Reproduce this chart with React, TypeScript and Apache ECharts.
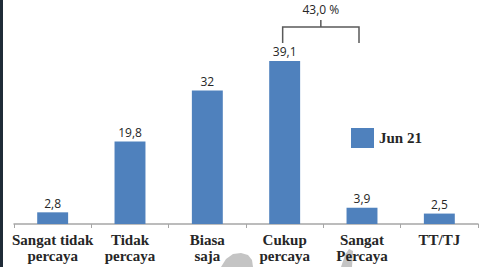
import React, { useEffect, useRef } from "react";
import * as echarts from "echarts";

const categories = ["Sangat tidak\npercaya", "Tidak\npercaya", "Biasa\nsaja", "Cukup\npercaya", "Sangat\nPercaya", "TT/TJ"];
const values = [2.8, 19.8, 32, 39.1, 3.9, 2.5];
const seriesName = "Jun 21";
const bracketLabel = "43,0 %";
const bracketFrom = 3;
const bracketTo = 4;

const fmt = (v: number) => String(v).replace(".", ",");

export default function App() {
  const ref = useRef<HTMLDivElement>(null);
  useEffect(() => {
    const chart = echarts.init(ref.current!, null, { renderer: "svg" });
    const option: any = {
      animation: false,
      backgroundColor: "#ffffff",
      grid: { left: 14, right: 12, top: 15.5, bottom: 43 },
      legend: {
        show: true,
        left: 346,
        top: 123,
        itemWidth: 23,
        itemHeight: 20,
        itemGap: 8,
        icon: "rect",
        textStyle: { fontFamily: "Liberation Serif", fontWeight: "bold", fontSize: 15, color: "#262626" },
        data: [seriesName],
      },
      xAxis: {
        type: "category",
        data: categories,
        axisLine: { lineStyle: { color: "#a6a6a6", width: 1.5 } },
        axisTick: { show: true, length: 4, lineStyle: { color: "#a6a6a6" } },
        axisLabel: {
          interval: 0,
          fontFamily: "Liberation Serif",
          fontWeight: "bold",
          fontSize: 15,
          color: "#262626",
          lineHeight: 16,
          margin: 8,
        },
      },
      yAxis: { type: "value", min: 0, max: 50, show: false },
      series: [
        {
          name: seriesName,
          type: "bar",
          data: values,
          barWidth: "40%",
          itemStyle: { color: "#4f81bd" },
          label: {
            show: true,
            position: "top",
            distance: 3,
            fontFamily: "Open Sans",
            fontSize: 12,
            color: "#262626",
            formatter: (p: any) => fmt(p.value),
          },
        },
      ],
    };
    chart.setOption(option);
    const p1 = chart.convertToPixel({ seriesIndex: 0 }, [bracketFrom, 0]) as number[];
    const p2 = chart.convertToPixel({ seriesIndex: 0 }, [bracketTo, 0]) as number[];
    const x1 = p1[0] - 2;
    const x2 = p2[0] - 3;
    const xm = (x1 + x2) / 2;
    const yTop = 27;
    const yLeg = 43;
    const lineStyle = { stroke: "#595959", lineWidth: 1.5, fill: "none" };
    const wm = { fill: "#c4c4c4" };
    chart.setOption({
      graphic: [
        { type: "rect", shape: { x: 0, y: 0, width: 3, height: 267 }, style: { fill: "#1f2b37" } },
        { type: "polygon", z: -1, shape: { points: [[221, 267], [226, 259], [233, 254], [241, 253], [248, 255], [252, 260], [253, 267]] }, style: wm },
        { type: "polygon", z: -1, shape: { points: [[341, 267], [345, 255], [349, 249], [353, 251], [352, 267]] }, style: wm },
        { type: "polyline", shape: { points: [[x1, yLeg], [x1, yTop], [x2, yTop], [x2, yLeg]] }, style: lineStyle },
        { type: "line", shape: { x1: xm, y1: yTop, x2: xm, y2: 20 }, style: lineStyle },
        {
          type: "text",
          x: xm,
          y: 9,
          style: {
            text: bracketLabel,
            fontFamily: "Open Sans",
            fontSize: 12,
            fill: "#262626",
            align: "center",
            verticalAlign: "middle",
          },
        },
      ],
    });
    return () => chart.dispose();
  }, []);
  return <div ref={ref} style={{ position: "fixed", left: 0, top: 0, width: 490, height: 267 }} />;
}
